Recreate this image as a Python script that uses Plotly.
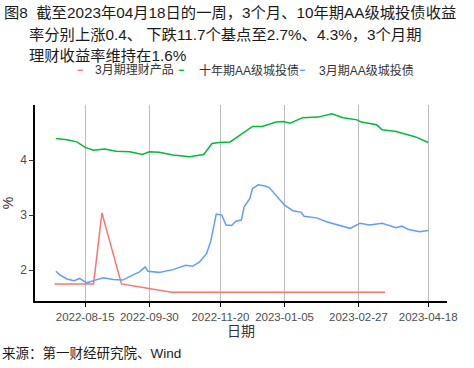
import plotly.graph_objects as go

# ---- data ----
red_dates = ["2022-07-24", "2022-08-21", "2022-08-27", "2022-09-10", "2022-10-16", "2023-03-18"]
red_vals = [1.75, 1.75, 3.04, 1.75, 1.60, 1.60]

green_dates = ["2022-07-25", "2022-08-02", "2022-08-09", "2022-08-15", "2022-08-21", "2022-08-29",
               "2022-09-06", "2022-09-16", "2022-09-25", "2022-09-30", "2022-10-07", "2022-10-17",
               "2022-10-29", "2022-11-05", "2022-11-08", "2022-11-14", "2022-11-19", "2022-11-27",
               "2022-12-06", "2022-12-13", "2022-12-20", "2022-12-30", "2023-01-04", "2023-01-09",
               "2023-01-18", "2023-01-29", "2023-02-08", "2023-02-16", "2023-02-26", "2023-03-01",
               "2023-03-12", "2023-03-16", "2023-03-26", "2023-04-02", "2023-04-09", "2023-04-18"]
green_vals = [4.39, 4.37, 4.33, 4.23, 4.18, 4.20,
              4.16, 4.15, 4.10, 4.15, 4.14, 4.09,
              4.06, 4.09, 4.10, 4.30, 4.32, 4.33,
              4.48, 4.61, 4.61, 4.69, 4.70, 4.67,
              4.77, 4.78, 4.84, 4.77, 4.73, 4.69,
              4.64, 4.55, 4.52, 4.47, 4.42, 4.32]

blue_dates = ["2022-07-25", "2022-07-28", "2022-08-02", "2022-08-07", "2022-08-11", "2022-08-16",
              "2022-08-21", "2022-08-28", "2022-09-04", "2022-09-11", "2022-09-18", "2022-09-23",
              "2022-09-27", "2022-09-29", "2022-10-07", "2022-10-17", "2022-10-26", "2022-10-31",
              "2022-11-05", "2022-11-10", "2022-11-13", "2022-11-17", "2022-11-21", "2022-11-24",
              "2022-11-28", "2022-12-01", "2022-12-05", "2022-12-07", "2022-12-11", "2022-12-13",
              "2022-12-17", "2022-12-22", "2022-12-25", "2022-12-30", "2023-01-05", "2023-01-11",
              "2023-01-17", "2023-01-19", "2023-01-28", "2023-02-04", "2023-02-13", "2023-02-21",
              "2023-02-28", "2023-03-07", "2023-03-16", "2023-03-26", "2023-03-30", "2023-04-04",
              "2023-04-12", "2023-04-18"]
blue_vals = [1.98, 1.91, 1.84, 1.81, 1.85, 1.77,
             1.81, 1.86, 1.83, 1.82, 1.91, 1.97,
             2.06, 1.98, 1.96, 2.01, 2.09, 2.07,
             2.15, 2.30, 2.52, 3.02, 3.00, 2.82,
             2.81, 2.89, 2.91, 3.15, 3.30, 3.48,
             3.55, 3.53, 3.50, 3.36, 3.18, 3.08,
             3.05, 2.98, 2.95, 2.88, 2.81, 2.76,
             2.85, 2.82, 2.85, 2.77, 2.80, 2.74,
             2.70, 2.72]

x_ticks = ["2022-08-15", "2022-09-30", "2022-11-20", "2023-01-05", "2023-02-27", "2023-04-18"]
y_ticks = [2, 3, 4]

series_names = ["3月期理财产品", "十年期AA级城投债", "3月期AA级城投债"]
series_colors = ["#F8766D", "#00BA38", "#619CFF"]
title_lines = ["图8  截至2023年04月18日的一周，3个月、10年期AA级城投债收益",
               "率分别上涨0.4、 下跌11.7个基点至2.7%、4.3%，3个月期",
               "理财收益率维持在1.6%"]
source_text = "来源：第一财经研究院、Wind"

FONT = "Liberation Sans, Noto Sans CJK SC, Arial, sans-serif"

# plot area geometry (pixels)
L, R, T, B = 35, 27, 105, 67
PW, PH = 474 - L - R, 368 - T - B


def px_x(px):
    return (px - L) / PW


def px_y(py):
    return 1 - (py - T) / PH


fig = go.Figure()
for d, v, n, c in zip([red_dates, green_dates, blue_dates], [red_vals, green_vals, blue_vals],
                      series_names, series_colors):
    fig.add_trace(go.Scatter(x=d, y=v, mode="lines", name=n, line=dict(color=c, width=1.5)))

fig.update_layout(
    width=474, height=368,
    margin=dict(l=L, r=R, t=T, b=B),
    paper_bgcolor="white", plot_bgcolor="white",
    font=dict(family=FONT, color="#333333"),
    showlegend=False,
    xaxis=dict(type="date", range=["2022-07-10", "2023-05-01 12:00"],
               tickvals=x_ticks, ticktext=x_ticks, automargin=False,
               showgrid=True, gridcolor="#bdbdbd", gridwidth=1,
               showline=True, linecolor="black", linewidth=1.5,
               ticks="outside", ticklen=4, tickcolor="black", tickwidth=1,
               tickfont=dict(family=FONT, size=11.5, color="#4d4d4d"),
               title=dict(text="日期", font=dict(size=14, color="#333333"), standoff=4),
               zeroline=False),
    yaxis=dict(range=[1.44, 5.0], tickvals=y_ticks, ticktext=[str(v) for v in y_ticks],
               automargin=False,
               showgrid=False, showline=True, linecolor="black", linewidth=1.5,
               ticks="outside", ticklen=4, tickcolor="#333333", tickwidth=1,
               tickfont=dict(family=FONT, size=12, color="#4d4d4d"),
               title=dict(text="%", font=dict(size=14, color="#333333"), standoff=6),
               zeroline=False),
)

# legend built from the series names/colours
dash_px = [79.7, 181, 302]
text_px = [93, 197, 317]
for name, col, dx, tx in zip(series_names, series_colors, dash_px, text_px):
    fig.add_annotation(text="━", xref="paper", yref="paper", x=px_x(dx), y=px_y(70),
                       xanchor="center", yanchor="middle", showarrow=False,
                       font=dict(family="DejaVu Sans", size=8, color=col))
    fig.add_annotation(text=name, xref="paper", yref="paper", x=px_x(tx), y=px_y(70),
                       xanchor="left", yanchor="middle", showarrow=False,
                       font=dict(family=FONT, size=12, color="#333333"))

# title lines
for line, lx, ly in zip(title_lines, [2, 27, 27], [13, 34, 55]):
    fig.add_annotation(text=line, xref="paper", yref="paper", x=px_x(lx), y=px_y(ly),
                       xanchor="left", yanchor="middle", showarrow=False,
                       font=dict(family=FONT, size=15.3, color="#1a1a1a"))

fig.add_annotation(text=source_text, xref="paper", yref="paper", x=px_x(0), y=px_y(353),
                   xanchor="left", yanchor="middle", showarrow=False,
                   font=dict(family=FONT, size=13.5, color="#1a1a1a"))

fig.write_html("out.html", config={"displayModeBar": False},
               post_script="document.body.style.margin='0';")
